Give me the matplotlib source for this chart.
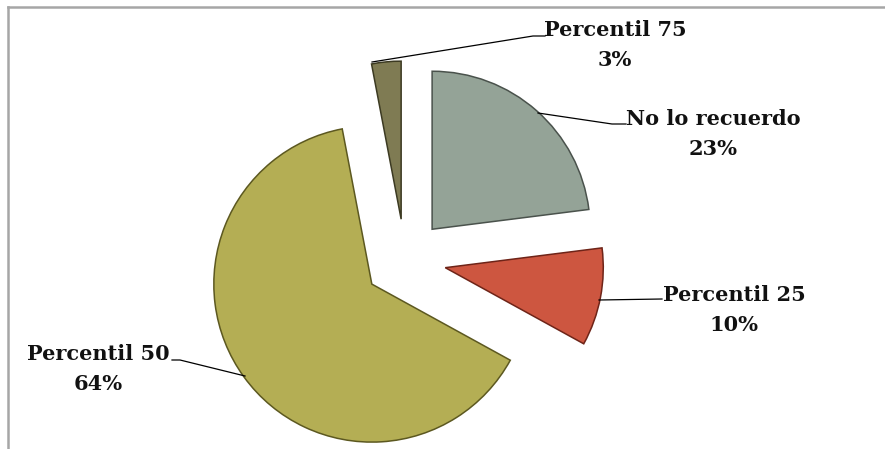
import matplotlib.pyplot as plt
from matplotlib.lines import Line2D

labels = ["No lo recuerdo", "Percentil 25", "Percentil 50", "Percentil 75"]
values = [23, 10, 64, 3]
colors = ["#94A397", "#CD5640", "#B4AE54", "#7F7B53"]
edges = ["#4A524C", "#6E2418", "#5C5820", "#3C3A22"]

W, H = 885, 449
fig = plt.figure(figsize=(W / 100, H / 100), dpi=100)
ax = fig.add_axes([0, 0, 1, 1])

# pie drawn in pixel coords; y axis is flipped so go counterclock to look clockwise
# (explode is in data units here, i.e. pixels)
wedges, _ = ax.pie(values, colors=colors, startangle=-90, counterclock=True,
                   radius=158, center=(405, 260), explode=[41] * 4,
                   wedgeprops=dict(linewidth=1.1), frame=True)
for w, ec in zip(wedges, edges):
    w.set_edgecolor(ec)
ax.set_xlim(0, W)
ax.set_ylim(H, 0)
ax.axis("off")

font = dict(family="DejaVu Serif", fontweight="bold", fontsize=15, color="#111111")

# label positions (text center) and leader line points
lab_pos = [(713, 134), (734, 310), (98, 369), (615, 45)]
leaders = [
    [(538, 113), (612, 124), (626, 124)],
    [(599, 300), (662, 299)],
    [(245, 376), (180, 360), (172, 360)],
    [(372, 62), (533, 36), (545, 36)],
]
for lab, v, (x, y), pts in zip(labels, values, lab_pos, leaders):
    ax.text(x, y, f"{lab}\n{v}%", ha="center", va="center", linespacing=1.65, **font)
    xs, ys = zip(*pts)
    ax.plot(xs, ys, color="black", lw=0.9)

# chart frame (only top and left visible)
fig.add_artist(Line2D([8 / W, 1], [1 - 7 / H, 1 - 7 / H], color="#A6A6A6", lw=1.8))
fig.add_artist(Line2D([8 / W, 8 / W], [0, 1 - 7 / H], color="#A6A6A6", lw=1.8))

fig.savefig("out.png", dpi=100)
